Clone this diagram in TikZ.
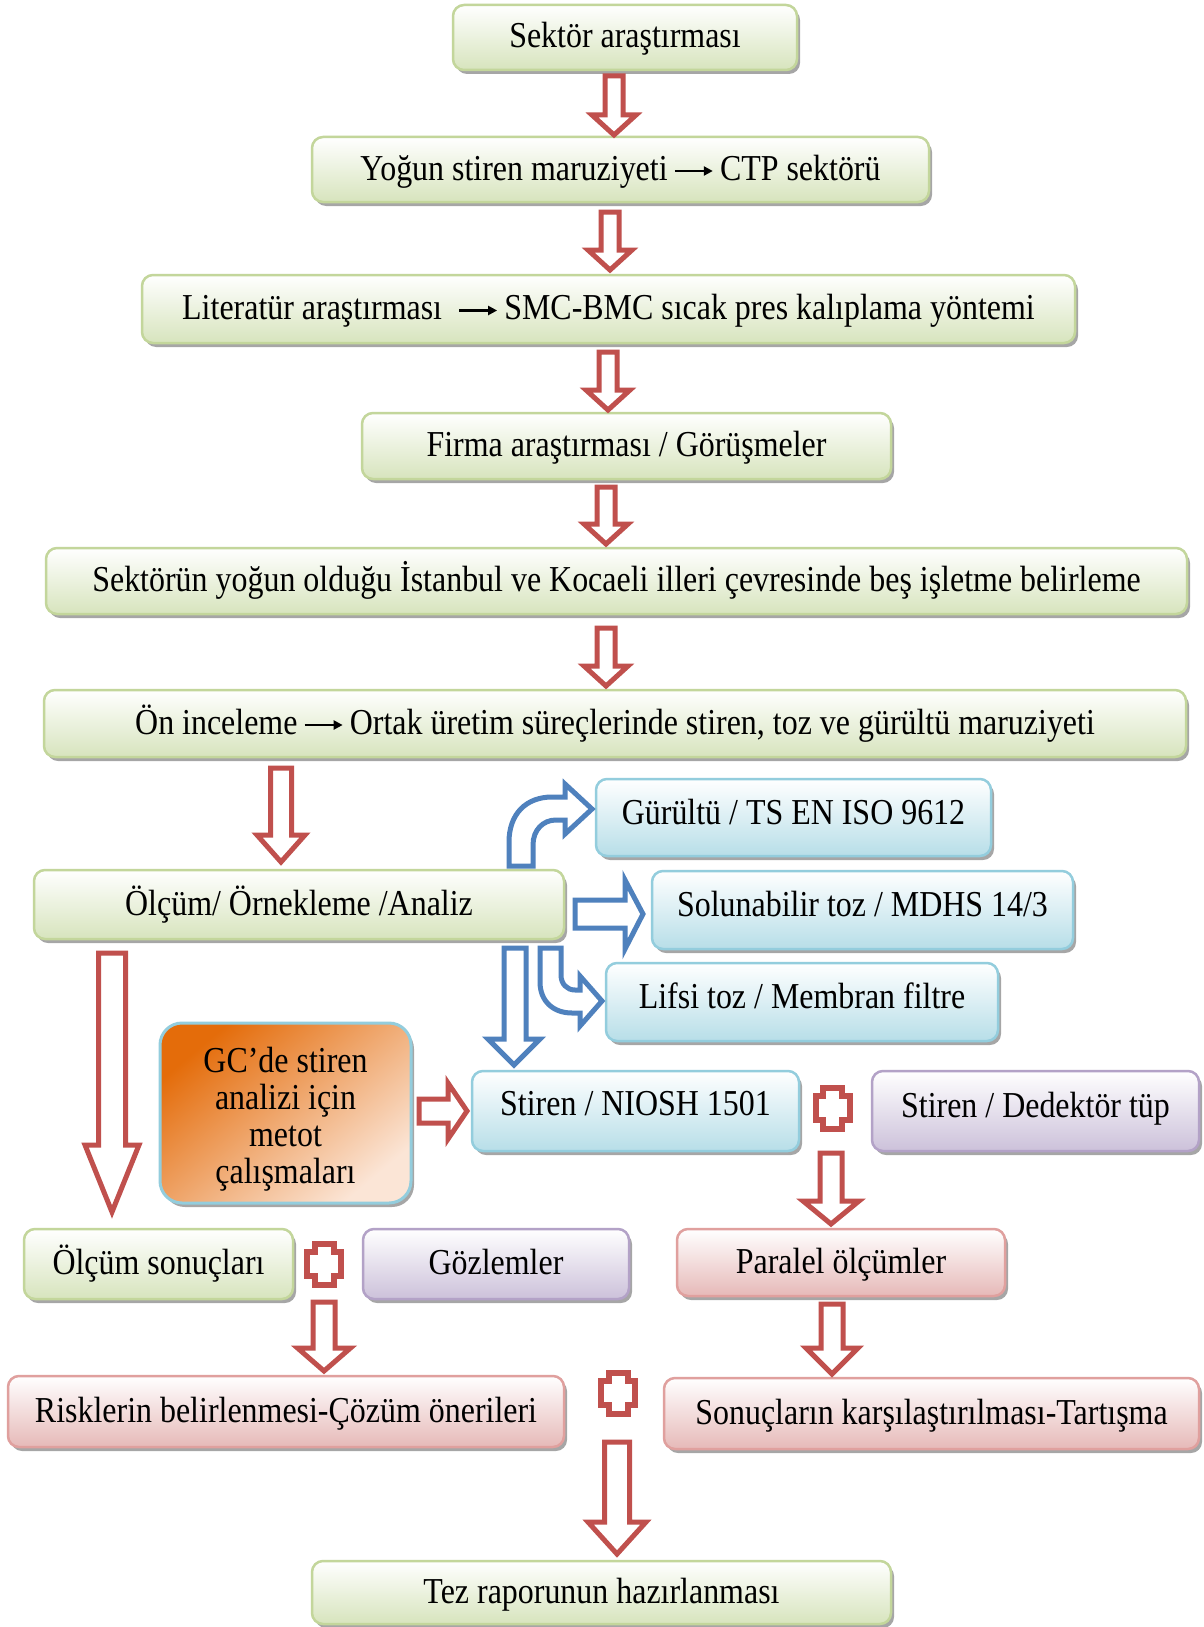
\documentclass[tikz,border=0pt]{standalone}
\usepackage{fontspec}
\setmainfont[FakeStretch=0.875]{Liberation Serif}
\usetikzlibrary{shadows,arrows.meta}
\definecolor{gborder}{HTML}{C3D69B}
\definecolor{gfill}{HTML}{D7E4BD}
\definecolor{bborder}{HTML}{93CDDD}
\definecolor{bfill}{HTML}{B7DEE8}
\definecolor{pborder}{HTML}{B3A2C7}
\definecolor{pfill}{HTML}{CCC1DA}
\definecolor{rborder}{HTML}{E0A09E}
\definecolor{rfill}{HTML}{E6B9B8}
\definecolor{redA}{HTML}{C0504D}
\definecolor{blueA}{HTML}{4F81BD}
\definecolor{orangeA}{HTML}{E46C0A}
\definecolor{peach}{HTML}{FBE5D6}
\newcommand\fsz{\fontsize{36.5}{37}\selectfont}
\newcommand\myarr{\tikz[baseline={(0pt,-9pt)}]\draw[sharp corners,line width=2.2pt,-{Triangle[length=9pt,width=9pt]}] (0pt,0pt) -- (38pt,0pt);}
\newcommand\bx[7]{\node[#6, minimum width={(#4-#2)*1pt}, minimum height={(#5-#3)*1pt}] (#1) at ({(#2+#4)/2},{(#3+#5)/2}) {#7};}
\newcommand\rdown[6]{\draw[redarr] ({#1-#4/2},#2) -- ({#1+#4/2},#2) -- ({#1+#4/2},{#3-#6}) -- ({#1+#5/2},{#3-#6}) -- (#1,#3) -- ({#1-#5/2},{#3-#6}) -- ({#1-#4/2},{#3-#6}) -- cycle;}
\newcommand\rplus[2]{\draw[redarr, line width=6pt] ({#1-9.5},{#2-20.5}) -- ({#1+9.5},{#2-20.5}) -- ({#1+9.5},{#2-12}) -- ({#1+17},{#2-12}) -- ({#1+17},{#2+12}) -- ({#1+9.5},{#2+12}) -- ({#1+9.5},{#2+20.5}) -- ({#1-9.5},{#2+20.5}) -- ({#1-9.5},{#2+12}) -- ({#1-17},{#2+12}) -- ({#1-17},{#2-12}) -- ({#1-9.5},{#2-12}) -- cycle;}
\newcommand\up[1]{\raisebox{4pt}{#1}}
\tikzset{
  box/.style={rounded corners=11pt, line width=2.5pt, inner sep=0pt, font=\fsz,
    text height=29pt, text depth=8pt,
    drop shadow={shadow xshift=3pt, shadow yshift=-4pt, fill=black, opacity=0.35}},
  gbox/.style={box, draw=gborder, top color=white, bottom color=gfill},
  bbox/.style={box, draw=bborder, top color=white, bottom color=bfill},
  pbox/.style={box, draw=pborder, top color=white, bottom color=pfill},
  rbox/.style={box, draw=rborder, top color=white, bottom color=rfill},
  obox/.style={rounded corners=22pt, line width=3pt, inner sep=0pt, font=\fsz, align=center,
    draw=bborder, top color=orangeA, bottom color=peach, shading angle=40,
    drop shadow={shadow xshift=3pt, shadow yshift=-4pt, fill=black, opacity=0.35}},
  redarr/.style={draw=redA, line width=5pt, fill=white, line join=miter, sharp corners},
  bluearr/.style={draw=blueA, line width=5pt, fill=white, line join=miter, sharp corners},
}
\begin{document}
\begin{tikzpicture}[x=1pt,y=-1pt]
\path[fill=white, use as bounding box] (0,0) rectangle (1203,1627);
% boxes
\bx{s1}{453}{5}{797}{70}{gbox}{Sektör araştırması}
\bx{s2}{312}{137}{929}{202}{gbox}{Yoğun stiren maruziyeti\,\myarr\,CTP sektörü}
\bx{s3}{142}{275}{1075}{343}{gbox}{Literatür araştırması~~\myarr\,SMC-BMC sıcak pres kalıplama yöntemi}
\bx{s4}{362}{413}{891}{479}{gbox}{Firma araştırması / Görüşmeler}
\bx{s5}{46}{548}{1187}{614}{gbox}{Sektörün yoğun olduğu İstanbul ve Kocaeli illeri çevresinde beş işletme belirleme}
\bx{s6}{44}{690}{1186}{757}{gbox}{Ön inceleme\,\myarr\,Ortak üretim süreçlerinde stiren, toz ve gürültü maruziyeti}
\bx{olc}{34}{870}{564}{939}{gbox}{Ölçüm/ Örnekleme /Analiz}
\bx{gur}{596}{779}{991}{856}{bbox}{\up{Gürültü / TS EN ISO 9612}}
\bx{sol}{652}{871}{1073}{949}{bbox}{\up{Solunabilir toz / MDHS 14/3}}
\bx{lif}{606}{963}{998}{1041}{bbox}{\up{Lifsi toz / Membran filtre}}
\node[obox, minimum width=251pt, minimum height=180pt] (gc) at (285.5,1113) {\rule{0pt}{38pt}GC’de stiren\\analizi için\\metot\\çalışmaları};
\bx{nio}{472}{1071}{799}{1151}{bbox}{\raisebox{6pt}{Stiren / NIOSH 1501}}
\bx{ded}{872}{1071}{1199}{1151}{pbox}{\up{Stiren / Dedektör tüp}}
\bx{os}{24}{1229}{293}{1299}{gbox}{Ölçüm sonuçları}
\bx{goz}{363}{1229}{629}{1299}{pbox}{Gözlemler}
\bx{par}{677}{1229}{1005}{1296}{rbox}{Paralel ölçümler}
\bx{risk}{8}{1376}{564}{1447}{rbox}{Risklerin belirlenmesi-Çözüm önerileri}
\bx{son}{664}{1378}{1199}{1449}{rbox}{Sonuçların karşılaştırılması-Tartışma}
\bx{tez}{312}{1561}{891}{1624}{gbox}{Tez raporunun hazırlanması}
% red down arrows
\rdown{614}{76}{135}{18}{44}{20}
\rdown{610}{212}{270}{18}{44}{20}
\rdown{608}{352}{410}{18}{44}{20}
\rdown{606}{487}{544}{18}{44}{20}
\rdown{606}{628}{686}{18}{44}{20}
\rdown{281}{768}{862}{21}{48}{27}
\rdown{112}{953}{1212}{27}{54}{67}
\rdown{831}{1153}{1224}{22}{56}{23}
\rdown{324}{1302}{1371}{22}{53}{23}
\rdown{832}{1304}{1374}{22}{52}{26}
\rdown{617}{1442}{1554}{25}{58}{32}
% GC -> NIOSH
\draw[redarr] (419,1099) -- (448,1099) -- (448,1083) -- (467,1111) -- (448,1139) -- (448,1123) -- (419,1123) -- cycle;
% plus signs
\rplus{832.5}{1108}
\rplus{324}{1264}
\rplus{618}{1393}
% blue arrows
\draw[bluearr] (509,866) -- (509,842) .. controls (509,814) and (526,797) .. (552,797) -- (565,797) -- (565,784) -- (592,809) -- (565,834) -- (565,820) -- (556,820) .. controls (543,820) and (533,830) .. (533,845) -- (533,866) -- cycle;
\draw[bluearr] (575,900) -- (625,900) -- (625,880) -- (643,914) -- (625,949) -- (625,928) -- (575,928) -- cycle;
\draw[bluearr] (504,948) -- (526,948) -- (526,1039) -- (540,1039) -- (514,1065) -- (488,1039) -- (504,1039) -- cycle;
\draw[bluearr] (540,948) -- (561,948) -- (561,975) .. controls (561,984) and (567,990) .. (575,990) -- (580,990) -- (580,976) -- (602,1001) -- (580,1026) -- (580,1013) -- (572,1013) .. controls (553,1013) and (540,1001) .. (540,982) -- cycle;
\end{tikzpicture}
\end{document}
